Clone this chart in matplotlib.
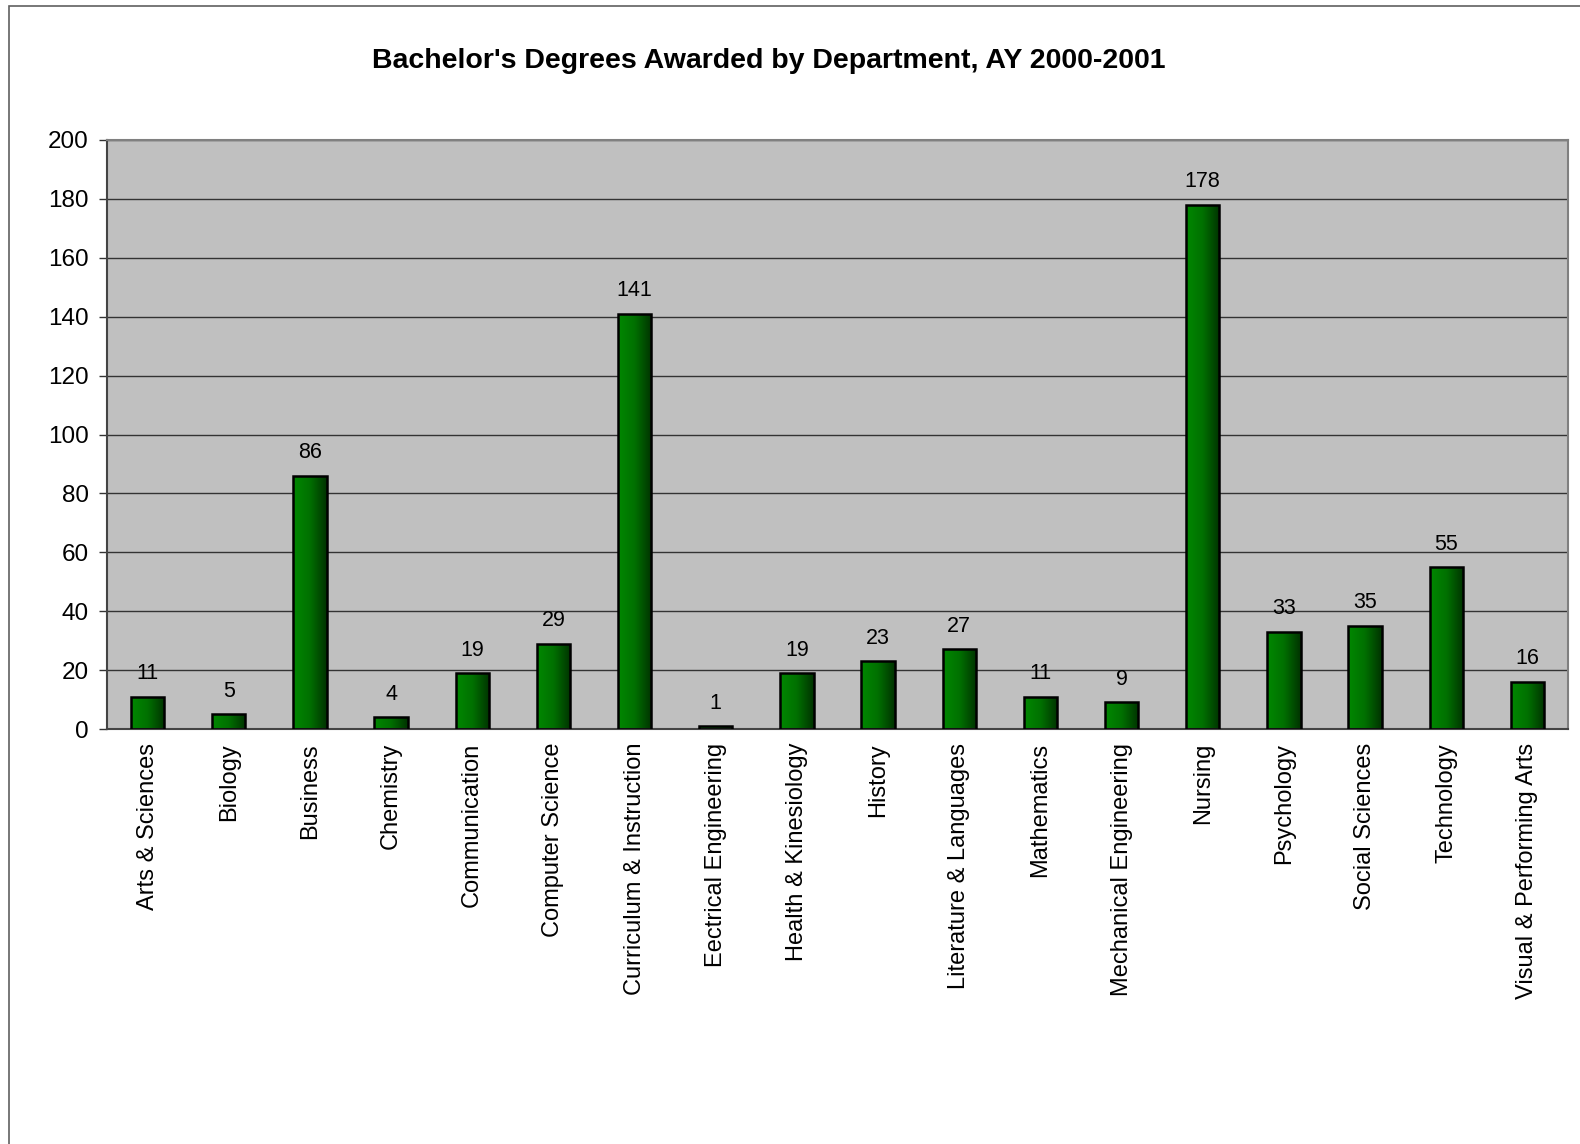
import numpy as np
import matplotlib
matplotlib.use("Agg")
import matplotlib.pyplot as plt
from matplotlib.patches import Rectangle
from matplotlib.colors import LinearSegmentedColormap

plt.rcParams['font.family'] = ['Liberation Sans', 'DejaVu Sans']

departments = ["Arts & Sciences", "Biology", "Business", "Chemistry", "Communication",
               "Computer Science", "Curriculum & Instruction", "Eectrical Engineering",
               "Health & Kinesiology", "History", "Literature & Languages", "Mathematics",
               "Mechanical Engineering", "Nursing", "Psychology", "Social Sciences",
               "Technology", "Visual & Performing Arts"]
degrees = [11, 5, 86, 4, 19, 29, 141, 1, 19, 23, 27, 11, 9, 178, 33, 35, 55, 16]
yticks = [0, 20, 40, 60, 80, 100, 120, 140, 160, 180, 200]
title = "Bachelor's Degrees Awarded by Department, AY 2000-2001"

fig = plt.figure(figsize=(15.8, 11.44), dpi=100)
# outer chart frame
fig.patches.append(Rectangle((9/1580, -0.1), 1.2, 1 - 6/1144 + 0.1, transform=fig.transFigure,
                             fill=False, edgecolor='#606060', linewidth=1.2))

ax = fig.add_axes([107/1580, 1 - 729/1144, (1568 - 107)/1580, (729 - 140)/1144])
ax.set_facecolor('#C0C0C0')
x = np.arange(len(departments))
bars = ax.bar(x, degrees, width=0.41, facecolor='none', edgecolor='black', linewidth=1.8, zorder=3)

cmap = LinearSegmentedColormap.from_list('g', ['#008800', '#007000', '#003300'])
grad = np.linspace(0, 1, 64).reshape(1, -1)
for b in bars:
    x0, y0 = b.get_x(), b.get_y()
    w, h = b.get_width(), b.get_height()
    im = ax.imshow(grad, cmap=cmap, extent=(x0, x0 + w, y0, y0 + h), aspect='auto',
                   zorder=2, interpolation='bilinear')
    im.set_clip_path(b)

for xi, v in zip(x, degrees):
    ax.annotate(str(v), (xi, v), xytext=(0, 9), textcoords='offset points',
                ha='center', va='bottom', fontsize=15.5)

ax.set_xlim(-0.5, len(departments) - 0.5)
ax.set_ylim(0, 200)
ax.set_yticks(yticks)
ax.set_yticklabels([str(t) for t in yticks], fontsize=17.5)
ax.yaxis.grid(True, color='#333333', linewidth=1.0, zorder=1)
ax.set_axisbelow(True)
ax.set_xticks(x)
ax.set_xticklabels(departments, rotation=90, fontsize=17)
ax.tick_params(axis='x', length=0, pad=10)
ax.tick_params(axis='y', length=6, width=1, color='#333333', pad=7)
for s in ['top', 'right']:
    ax.spines[s].set_color('#808080')
    ax.spines[s].set_linewidth(1.5)
for s in ['left', 'bottom']:
    ax.spines[s].set_color('#444444')
    ax.spines[s].set_linewidth(1.5)

fig.text(769/1580, 1 - 61/1144, title, ha='center', va='center', fontsize=20.5, fontweight='bold')

fig.savefig('out.png', dpi=100)
